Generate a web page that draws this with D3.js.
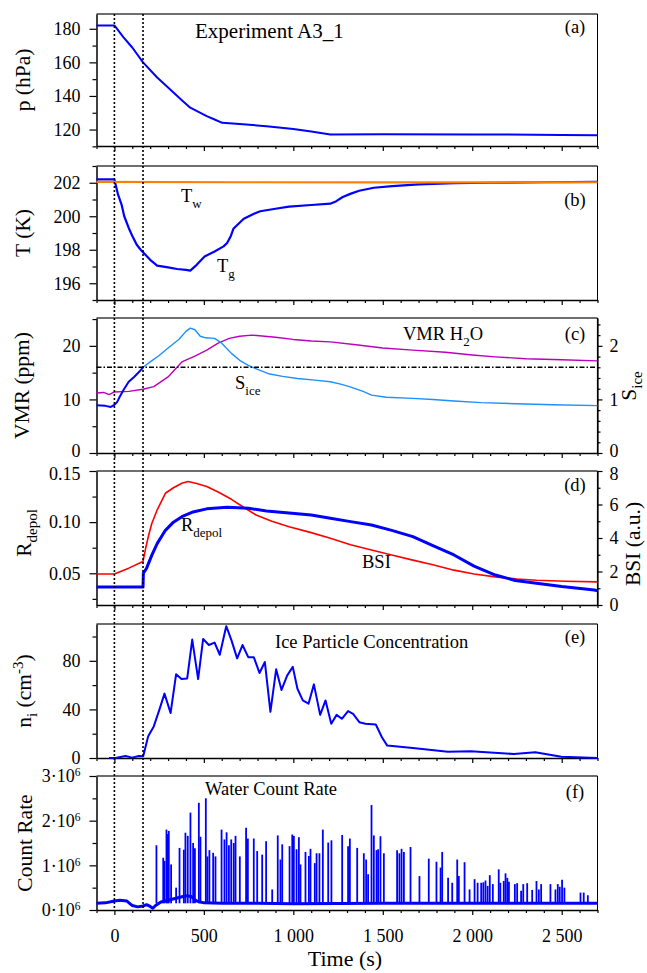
<!DOCTYPE html>
<html><head><meta charset="utf-8">
<script src="https://cdn.jsdelivr.net/npm/d3@7"></script>
<style>
html,body{margin:0;padding:0;background:#fff;}
svg{display:block;}
svg text{font-family:"Liberation Serif","Times New Roman",Times,Tinos,"DejaVu Serif","Noto Serif",serif;}
</style></head><body>
<svg id="chart" width="647" height="973"></svg>
<script>
// ---------------- DATA ----------------
const timeDomain = [-100, 2700];
const xTicksMajor = [0, 500, 1000, 1500, 2000, 2500];
const xTickLabels = ["0", "500", "1 000", "1 500", "2 000", "2 500"];
const xTicksMinor = [-100,100,200,300,400,600,700,800,900,1100,1200,1300,1400,1600,1700,1800,1900,2100,2200,2300,2400,2600,2700];
const markerTimes = [0, 160];
const sIceThreshold = 1.6;

// (a) pressure, hPa
const pressure = [[-100,182],[0,182],[50,175],[101,168.7],[160,160],[239,151],[300,145],[377,137.5],[424,133],[470,130.5],[516,128],[560,126],[603,124],[700,123.3],[850,122],[1000,120.3],[1100,118.8],[1207,117],[1500,117.2],[2000,117.1],[2500,116.8],[2700,116.6]];
// (b) temperatures, K
const tempWall = [[-100,202.05],[700,202.03],[1500,202.02],[2700,202.03]];
const tempGas = [[-100,202.2],[0,202.2],[20,201.3],[40,200.7],[55,200.0],[80,199.3],[101,198.8],[125,198.3],[147,198.0],[160,197.85],[200,197.4],[239,197.05],[300,196.95],[350,196.85],[400,196.8],[424,196.75],[460,197.1],[504,197.6],[560,197.9],[610,198.2],[630,198.4],[650,198.8],[665,199.25],[723,199.85],[780,200.15],[815,200.3],[900,200.45],[976,200.57],[1100,200.67],[1207,200.75],[1240,200.9],[1276,201.15],[1322,201.35],[1368,201.52],[1450,201.7],[1553,201.8],[1700,201.9],[1900,201.97],[2100,202.0],[2400,202.03],[2700,202.05]];
// (c) VMR H2O (ppm) and S_ice
const vmrH2O = [[-100,11.2],[-60,11.3],[-30,10.9],[0,11.4],[80,11.5],[160,11.9],[220,12.4],[300,14.2],[377,17.0],[450,18.1],[516,19.2],[580,20.5],[642,21.4],[700,21.8],[769,22.0],[900,21.6],[1000,21.2],[1100,20.9],[1207,20.75],[1350,20.2],[1500,19.6],[1668,19.2],[1850,18.8],[2000,18.3],[2129,17.95],[2300,17.6],[2500,17.4],[2700,17.2]];
const sIcePre = [[-100,0.89],[-50,0.88],[-20,0.86],[0,0.9],[15,0.95],[30,1.05],[50,1.17],[80,1.33],[110,1.42],[140,1.52],[160,1.6]];
const sIcePost = [[160,1.6],[200,1.7],[250,1.82],[300,1.96],[360,2.12],[400,2.27],[424,2.33],[450,2.3],[480,2.18],[510,2.15],[560,2.14],[600,2.05],[654,1.86],[700,1.73],[746,1.64],[800,1.56],[861,1.48],[940,1.43],[1023,1.39],[1120,1.36],[1207,1.33],[1270,1.28],[1322,1.23],[1390,1.15],[1437,1.08],[1520,1.04],[1668,1.02],[1780,1.0],[1898,0.97],[2050,0.94],[2244,0.92],[2450,0.9],[2700,0.885]];
// (d) backscatter intensity (a.u.) and depolarisation ratio
const bsi = [[-100,1.85],[0,1.85],[80,2.2],[160,2.6],[175,3.4],[190,4.1],[209,4.87],[240,5.7],[285,6.67],[330,7.0],[377,7.27],[412,7.37],[460,7.25],[516,7.07],[580,6.75],[654,6.31],[720,5.85],[792,5.37],[880,5.0],[976,4.67],[1090,4.35],[1207,3.98],[1320,3.6],[1437,3.28],[1550,2.98],[1668,2.68],[1780,2.4],[1898,2.08],[2010,1.85],[2129,1.68],[2250,1.55],[2359,1.48],[2520,1.42],[2700,1.38]];
const rDepol = [[-100,0.0365],[160,0.0365],[162,0.05],[180,0.055],[210,0.068],[239,0.079],[285,0.092],[330,0.1],[377,0.1053],[440,0.11],[516,0.113],[630,0.1146],[750,0.1135],[850,0.111],[976,0.109],[1100,0.107],[1207,0.1038],[1320,0.1005],[1437,0.0972],[1550,0.092],[1668,0.0858],[1780,0.077],[1898,0.0679],[2010,0.057],[2129,0.0483],[2240,0.043],[2359,0.0402],[2500,0.037],[2682,0.0336],[2700,0.033]];
// (e) ice particle concentration (cm^-3)
const nIce = [[-30,0],[6,0],[62,1.7],[99,0.3],[137,1.7],[161,1.4],[189,18],[220,26],[252,40],[280,53],[314,37],[345,69],[375,65],[407,65.5],[435,97.5],[468,65],[496,98],[528,93],[560,95],[589,85],[625,108.5],[654,97],[686,82],[716,93],[748,83],[779,83],[811,70],[841,79],[872,38],[904,73],[934,56],[966,68],[997,75],[1023,57],[1053,47.4],[1085,44.7],[1115,60.6],[1150,35.5],[1180,47.4],[1212,28.2],[1242,35.5],[1271,32.3],[1306,38.6],[1334,36.4],[1369,29.5],[1403,28.2],[1461,27.6],[1495,17.1],[1525,10.2],[1668,8.2],[1864,5.2],[1991,5.5],[2233,3.3],[2352,4.7],[2498,1],[2700,0]];
// (f) water count rate (units of 1e6): background and spike peaks
const countBase = [[-100,0.15],[-50,0.16],[0,0.2],[30,0.22],[70,0.2],[100,0.1],[130,0.07],[160,0.09],[180,0.12],[200,0.08],[215,0.04],[230,0.1],[260,0.18],[300,0.22],[350,0.27],[400,0.32],[430,0.3],[460,0.2],[500,0.16],[600,0.15],[800,0.15],[1000,0.14],[1500,0.15],[2000,0.15],[2500,0.15],[2700,0.15]];
const spikeBase = 0.15;
const countSpikes = [[235,1.45],[273,1.17],[280,1.10],[291,1.80],[297,1.70],[304,1.77],[317,1.02],[345,0.50],[364,1.39],[388,1.35],[397,1.73],[410,1.66],[425,2.18],[440,1.50],[450,1.38],[472,2.40],[481,1.64],[511,2.50],[520,1.20],[531,1.34],[552,1.28],[565,1.20],[599,1.80],[615,1.58],[627,1.74],[640,1.45],[653,1.58],[667,1.50],[677,1.66],[701,1.20],[736,1.84],[746,1.60],[779,1.60],[798,1.32],[826,1.24],[848,1.54],[882,0.46],[913,1.67],[928,1.13],[938,1.47],[979,1.43],[994,1.69],[1003,1.66],[1018,1.36],[1031,1.63],[1040,1.02],[1068,1.30],[1087,1.21],[1096,1.37],[1120,1.05],[1130,1.27],[1146,1.27],[1165,1.80],[1195,1.51],[1213,1.56],[1273,1.68],[1306,1.43],[1316,1.60],[1357,1.39],[1394,1.27],[1407,1.13],[1418,0.80],[1437,2.35],[1450,1.67],[1465,1.34],[1474,1.36],[1487,1.65],[1506,1.27],[1580,1.34],[1593,1.27],[1605,1.37],[1618,1.30],[1655,1.41],[1705,0.76],[1757,1.15],[1800,1.08],[1823,0.95],[1832,1.30],[1865,0.72],[1888,0.61],[1916,1.13],[1925,0.76],[1957,1.07],[1985,0.46],[2013,0.69],[2030,0.61],[2050,0.61],[2062,0.62],[2074,0.66],[2086,0.54],[2098,0.78],[2115,0.58],[2148,0.91],[2157,0.61],[2176,0.65],[2186,0.82],[2196,0.72],[2205,0.63],[2238,0.58],[2251,0.60],[2273,0.43],[2285,0.58],[2307,0.60],[2335,0.45],[2359,0.65],[2372,0.46],[2385,0.58],[2437,0.58],[2465,0.46],[2478,0.58],[2489,0.52],[2502,0.68],[2515,0.50],[2605,0.39],[2623,0.39],[2646,0.33]];

// y tick values
const pTicks = [120,140,160,180], pMinor = [110,130,150,170];
const tTicks = [196,198,200,202], tMinor = [195,197,199,201,203];
const vmrTicks = [0,10,20], vmrMinor = [5,15,25];
const sTicks = [0,1,2], sMinor = [0.2,0.4,0.6,0.8,1.2,1.4,1.6,1.8,2.2,2.4];
const rTicks = [0.05,0.10,0.15], rMinor = [0.025,0.075,0.125];
const bsiTicks = [0,2,4,6,8], bsiMinor = [1,3,5,7];
const nTicks = [0,40,80], nMinor = [20,60,100];
const cTicks = [0,1,2,3], cMinor = [0.5,1.5,2.5];

// ---------------- DRAWING ----------------
const svg = d3.select("#chart");
const L = 96.5, R = 597.5;
const x = d3.scaleLinear().domain(timeDomain).range([L, R]);
const FONT_TICK = 18, FONT_TITLE = 21.5, FONT_NOTE = 18.5;

function styleAxis(sel, w) {
  sel.select(".domain").attr("stroke", "#000").attr("stroke-width", w || 1.5);
  sel.selectAll(".tick line").attr("stroke", "#000").attr("stroke-width", 1.2);
  sel.selectAll("text").attr("font-size", FONT_TICK).attr("fill", "#000").attr("font-family", null);
}

function panel(top, bottom, domain, yT, yM, opts) {
  opts = opts || {};
  const y = d3.scaleLinear().domain(domain).range([bottom, top]);
  const g = svg.append("g");
  g.append("line").attr("x1", L).attr("x2", R).attr("y1", top).attr("y2", top)
    .attr("stroke", "#6e6e6e").attr("stroke-width", 2);
  if (!opts.right) g.append("line").attr("x1", R).attr("x2", R).attr("y1", top).attr("y2", bottom)
    .attr("stroke", "#000").attr("stroke-width", 1);
  const bm = g.append("g").attr("transform", `translate(0,${bottom})`)
    .call(d3.axisBottom(x).tickValues(xTicksMinor).tickSize(3).tickSizeOuter(0).tickFormat(""));
  bm.select(".domain").remove(); styleAxis(bm);
  const bM = g.append("g").attr("transform", `translate(0,${bottom})`)
    .call(d3.axisBottom(x).tickValues(xTicksMajor).tickSize(5).tickSizeOuter(0).tickPadding(14)
      .tickFormat(opts.labels ? (d, i) => xTickLabels[i] : ""));
  styleAxis(bM);
  const lm = g.append("g").attr("transform", `translate(${L},0)`)
    .call(d3.axisLeft(y).tickValues(yM).tickSize(4).tickSizeOuter(0).tickFormat(""));
  lm.select(".domain").remove(); styleAxis(lm);
  const lM = g.append("g").attr("class", "yleft").attr("transform", `translate(${L},0)`)
    .call(d3.axisLeft(y).tickValues(yT).tickSize(7).tickSizeOuter(0).tickPadding(9)
      .tickFormat(opts.fmt || (d => d)));
  styleAxis(lM);
  return {g, y, lM};
}

function rightAxis(g, y, ticks, minor) {
  const rm = g.append("g").attr("transform", `translate(${R},0)`)
    .call(d3.axisRight(y).tickValues(minor).tickSize(3).tickSizeOuter(0).tickFormat(""));
  rm.select(".domain").remove(); styleAxis(rm);
  const rM = g.append("g").attr("transform", `translate(${R},0)`)
    .call(d3.axisRight(y).tickValues(ticks).tickSize(5).tickSizeOuter(0).tickPadding(7).tickFormat(d => d));
  styleAxis(rM, 1.2);
  return rM;
}

function drawLine(g, y, data, color, width) {
  g.append("path").datum(data)
    .attr("fill", "none").attr("stroke", color).attr("stroke-width", width)
    .attr("stroke-linejoin", "round")
    .attr("d", d3.line().x(d => x(d[0])).y(d => y(d[1])));
}

function addParts(t, parts, size) {
  let shift = 0;
  parts.forEach(p => {
    const s = t.append("tspan").text(p.t);
    const want = p.sub ? Math.round(size * 0.3) : p.sup ? -Math.round(size * 0.38) : 0;
    if (want !== shift) { s.attr("dy", want - shift); shift = want; }
    if (p.sub || p.sup) s.attr("font-size", Math.round(size * 0.7));
  });
}
function note(parts, px, py, anchor, size) {
  const t = svg.append("text").attr("x", px).attr("y", py)
    .attr("font-size", size || FONT_NOTE).attr("text-anchor", anchor || "start").attr("fill", "#000");
  addParts(t, parts, size || FONT_NOTE);
}
function vtitle(parts, px, py, size) {
  const t = svg.append("text").attr("transform", `translate(${px},${py}) rotate(-90)`)
    .attr("text-anchor", "middle").attr("font-size", size || FONT_TITLE).attr("fill", "#000");
  addParts(t, parts, size || FONT_TITLE);
}

// panel frames
const A = panel(14, 146, [110.2, 188.8], pTicks, pMinor);
const B = panel(166, 300, [195, 203], tTicks, tMinor);
const C = panel(318, 453, [0, 25.2], vmrTicks, vmrMinor, {right: true});
const Cs = d3.scaleLinear().domain([0, 2.52]).range([453, 318]);
C.g.append("line").attr("x1", R).attr("x2", R).attr("y1", 318).attr("y2", 453).attr("stroke", "#000").attr("stroke-width", 1.2);
const CR = rightAxis(C.g, Cs, sTicks, sMinor);
const D = panel(471, 605, [0.019, 0.15], rTicks, rMinor, {right: true, fmt: d3.format(".2f")});
const Ds = d3.scaleLinear().domain([0, 8]).range([605, 471]);
D.g.append("line").attr("x1", R).attr("x2", R).attr("y1", 471).attr("y2", 605).attr("stroke", "#000").attr("stroke-width", 1.2);
const DR = rightAxis(D.g, Ds, bsiTicks, bsiMinor);
// nudge the closely stacked edge labels between (c) and (d) apart slightly
C.lM.selectAll(".tick text").filter(d => d === 0).attr("dy", "0.2em");
CR.selectAll(".tick text").filter(d => d === 0).attr("dy", "0.2em");
D.lM.selectAll(".tick text").filter(d => d === 0.15).attr("dy", "0.45em");
DR.selectAll(".tick text").filter(d => d === 8).attr("dy", "0.45em");
const E = panel(624, 758, [0, 110.3], nTicks, nMinor);
const F = panel(776, 910, [0, 3], cTicks, cMinor, {labels: true, fmt: () => ""});

// count-rate tick labels with superscript
F.g.selectAll(".cl").data(cTicks).join("text")
  .attr("x", L - 16).attr("y", d => F.y(d)).attr("dy", "0.36em")
  .attr("text-anchor", "end").attr("font-size", FONT_TICK)
  .each(function(d) {
    const t = d3.select(this);
    t.append("tspan").text(d + "\u00b710");
    t.append("tspan").text("6").attr("font-size", 11.5).attr("dy", -6);
  });

// series
drawLine(A.g, A.y, pressure, "#0000ff", 2);
drawLine(B.g, B.y, tempGas, "#0000ff", 2.2);
drawLine(B.g, B.y, tempWall, "#ff8000", 2.2);
drawLine(C.g, C.y, vmrH2O, "#bb00bb", 1.4);
drawLine(C.g, Cs, sIcePost, "#1e8fff", 1.4);
drawLine(C.g, Cs, sIcePre, "#0000ff", 2);
drawLine(D.g, Ds, bsi, "#ff0000", 1.6);
drawLine(D.g, D.y, rDepol, "#0000ff", 3);
drawLine(E.g, E.y, nIce, "#0000ff", 2);
drawLine(F.g, F.y, countBase, "#0000ff", 3);
F.g.selectAll(".spk").data(countSpikes).join("line")
  .attr("x1", d => x(d[0])).attr("x2", d => x(d[0]))
  .attr("y1", F.y(spikeBase)).attr("y2", d => F.y(d[1]))
  .attr("stroke", "#0000ff").attr("stroke-width", 1.8);

// threshold line in (c)
C.g.append("line").attr("x1", L).attr("x2", R)
  .attr("y1", Cs(sIceThreshold)).attr("y2", Cs(sIceThreshold))
  .attr("stroke", "#000").attr("stroke-width", 1.5).attr("stroke-dasharray", "5,2,1.5,2");

// dotted markers
svg.selectAll(".mk").data(markerTimes).join("line")
  .attr("x1", d => x(d)).attr("x2", d => x(d)).attr("y1", 14).attr("y2", 910)
  .attr("stroke", "#000").attr("stroke-width", 1.6).attr("stroke-dasharray", "2,2");

// annotations
note([{t: "Experiment A3_1"}], 195, 38, "start", 21);
[["(a)", 33], ["(b)", 206], ["(c)", 339.5], ["(d)", 491], ["(e)", 643], ["(f)", 798]]
  .forEach(([s, yy]) => note([{t: s}], 575, yy, "middle"));
note([{t: "T"}, {t: "w", sub: true}], 181, 202);
note([{t: "T"}, {t: "g", sub: true}], 217, 272);
note([{t: "VMR H"}, {t: "2", sub: true}, {t: "O"}], 403, 340);
note([{t: "S"}, {t: "ice", sub: true}], 235, 389);
note([{t: "R"}, {t: "depol", sub: true}], 181, 531);
note([{t: "BSI"}], 362, 568);
note([{t: "Ice Particle Concentration"}], 275, 648);
note([{t: "Water Count Rate"}], 205, 795);

// axis titles
vtitle([{t: "p (hPa)"}], 30, 80);
vtitle([{t: "T (K)"}], 30, 233);
vtitle([{t: "VMR (ppm)"}], 29, 385.5);
vtitle([{t: "R"}, {t: "depol", sub: true}], 31, 533);
vtitle([{t: "n"}, {t: "i", sub: true}, {t: " (cm"}, {t: "-3", sup: true}, {t: ")"}], 31, 691);
vtitle([{t: "Count Rate"}], 32, 843);
vtitle([{t: "S"}, {t: "ice", sub: true}], 636, 386);
vtitle([{t: "BSI (a.u.)"}], 640, 544);
svg.append("text").attr("x", 345).attr("y", 966).attr("text-anchor", "middle")
  .attr("font-size", 22).text("Time (s)");
</script>
</body></html>
